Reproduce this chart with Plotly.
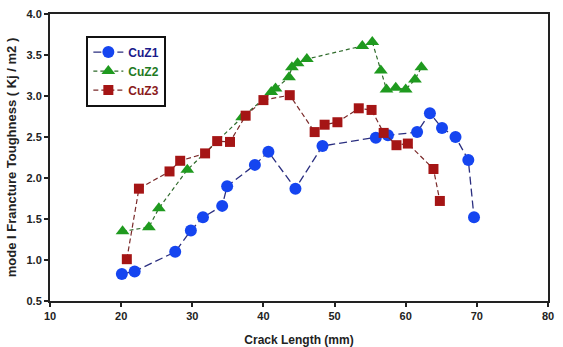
import plotly.graph_objects as go

# CuZ1
x1 = [20.1, 21.9, 27.6, 29.8, 31.5, 34.2, 34.9, 38.8, 40.7, 44.5, 48.3, 55.8, 57.5, 61.6, 63.4, 65.1, 67.0, 68.8, 69.6]
y1 = [0.83, 0.86, 1.10, 1.36, 1.52, 1.66, 1.90, 2.16, 2.32, 1.87, 2.39, 2.49, 2.52, 2.56, 2.79, 2.61, 2.50, 2.22, 1.52]
# CuZ2
x2 = [20.2, 23.9, 25.3, 29.3, 37.0, 41.1, 41.7, 43.6, 44.0, 44.8, 46.1, 53.9, 55.3, 56.5, 57.3, 58.6, 60.0, 61.3, 62.2]
y2 = [1.35, 1.40, 1.63, 2.10, 2.74, 3.05, 3.09, 3.23, 3.35, 3.40, 3.45, 3.61, 3.66, 3.31, 3.08, 3.10, 3.08, 3.20, 3.35]
# CuZ3
x3 = [20.8, 22.5, 26.8, 28.3, 31.8, 33.5, 35.3, 37.5, 40.0, 43.7, 47.2, 48.6, 50.4, 53.4, 55.2, 56.9, 58.7, 60.3, 63.9, 64.8]
y3 = [1.01, 1.87, 2.08, 2.21, 2.30, 2.45, 2.44, 2.76, 2.95, 3.01, 2.56, 2.65, 2.68, 2.85, 2.83, 2.55, 2.40, 2.42, 2.11, 1.72]

x_ticks = [10, 20, 30, 40, 50, 60, 70, 80]
y_ticks = [0.5, 1.0, 1.5, 2.0, 2.5, 3.0, 3.5, 4.0]

fig = go.Figure()
fig.add_trace(go.Scatter(x=x1, y=y1, name="CuZ1", mode="lines+markers",
                         line=dict(color="#2b2f80", width=1.3, dash="8px,4px"),
                         marker=dict(symbol="circle", size=12, color="#1545f0")))
fig.add_trace(go.Scatter(x=x2, y=y2, name="CuZ2", mode="lines+markers",
                         line=dict(color="#2e6a2a", width=1.2, dash="4px,3px"),
                         marker=dict(symbol="triangle-up", size=12, color="#1f9a1f")))
fig.add_trace(go.Scatter(x=x3, y=y3, name="CuZ3", mode="lines+markers",
                         line=dict(color="#7a2a2a", width=1.2, dash="5px,3px"),
                         marker=dict(symbol="square", size=10, color="#a51515")))

font_family = "Liberation Sans, Arial, sans-serif"
fig.update_layout(
    width=563, height=347,
    margin=dict(l=50, r=15, t=14, b=46),
    paper_bgcolor="white", plot_bgcolor="white",
    font=dict(family=font_family, size=11, color="#222"),
    showlegend=True,
    legend=dict(x=0.073, y=0.925, xanchor="left", yanchor="top",
                bgcolor="white", bordercolor="#111", borderwidth=2,
                font=dict(family=font_family, size=12, color="#222"),
                itemwidth=30, tracegroupgap=0),
    xaxis=dict(range=[10, 80], tickvals=x_ticks, ticktext=[f"<b>{v}</b>" for v in x_ticks],
               showgrid=False, zeroline=False, showline=True, linecolor="#222", linewidth=2,
               mirror=True, ticks="outside", ticklen=4, tickwidth=1.5, tickcolor="#222",
               automargin=False,
               title=dict(text="<b>Crack Length (mm)</b>", font=dict(size=12), standoff=14)),
    yaxis=dict(range=[0.5, 4.0], tickvals=y_ticks, ticktext=[f"<b>{v:.1f}</b>" for v in y_ticks],
               showgrid=False, zeroline=False, showline=True, linecolor="#222", linewidth=2,
               mirror=True, ticks="outside", ticklen=4, tickwidth=1.5, tickcolor="#222",
               automargin=False,
               title=dict(text="<b>mode I Francture Toughness ( Kj / m2 )</b>", font=dict(size=13), standoff=7)),
)

# colour legend entries
for tr, c in zip(fig.data, ["#1a1a8a", "#1f7a1f", "#8a1a1a"]):
    tr.name = f"<span style='color:{c}'><b>{tr.name}</b></span>"

fig.write_html("out.html")
